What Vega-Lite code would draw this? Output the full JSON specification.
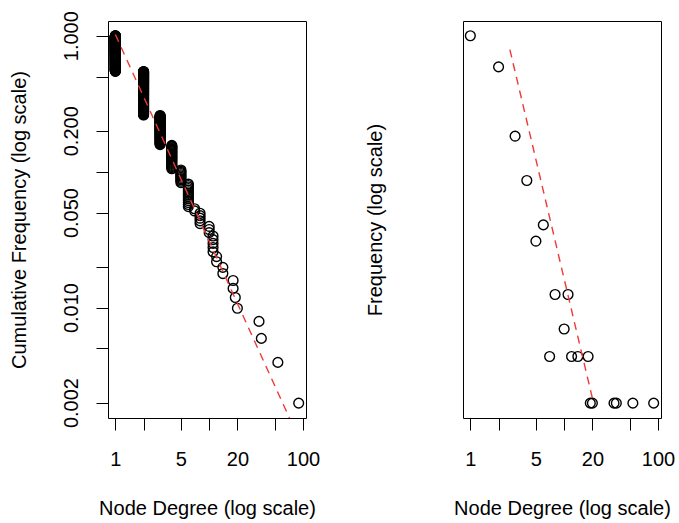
{
"$schema": "https://vega.github.io/schema/vega-lite/v6.json",
"background": "white",
"padding": {"left": 8, "top": 10, "right": 3, "bottom": 5},
"bounds": "flush",
"spacing": 157,
"config": {
 "font": "Liberation Sans",
 "view": {"stroke": "black", "strokeWidth": 1},
 "axis": {"labelFont": "Liberation Sans", "titleFont": "Liberation Sans", "labelFontSize": 20, "titleFontSize": 20, "titleFontWeight": "normal", "labelColor": "black", "titleColor": "black", "tickColor": "black", "tickWidth": 1, "tickSize": 12, "grid": false, "domain": false, "labelOverlap": false, "labelFlush": false}
},
"datasets": {
 "cum": [
{"d":90,"c":0.00198},{"d":54,"c":0.00395},{"d":36,"c":0.00593},{"d":34,"c":0.00791},{"d":20,"c":0.00988},{"d":19,"c":0.01186},{"d":18,"c":0.01383},{"d":18,"c":0.01581},{"d":14,"c":0.01779},{"d":14,"c":0.01976},{"d":12,"c":0.02174},{"d":12,"c":0.02372},{"d":11,"c":0.02569},{"d":11,"c":0.02767},{"d":11,"c":0.02964},{"d":11,"c":0.03162},{"d":11,"c":0.0336},{"d":10,"c":0.03557},{"d":10,"c":0.03755},{"d":10,"c":0.03953},{"d":8,"c":0.0415},{"d":8,"c":0.04348},{"d":8,"c":0.04545},{"d":8,"c":0.04743},{"d":8,"c":0.04941},{"d":7,"c":0.05138},{"d":7,"c":0.05336},
{"d":6,"c":0.05534},{"d":6,"c":0.05731},{"d":6,"c":0.05929},{"d":6,"c":0.06126},{"d":6,"c":0.06324},{"d":6,"c":0.06522},{"d":6,"c":0.06719},{"d":6,"c":0.06917},{"d":6,"c":0.07115},{"d":6,"c":0.07312},{"d":6,"c":0.0751},{"d":6,"c":0.07708},{"d":6,"c":0.07905},{"d":6,"c":0.08103},
{"d":5,"c":0.083},{"d":5,"c":0.08498},{"d":5,"c":0.08696},{"d":5,"c":0.08893},{"d":5,"c":0.09091},{"d":5,"c":0.09289},{"d":5,"c":0.09486},{"d":5,"c":0.09684},{"d":5,"c":0.09881},{"d":5,"c":0.10079},{"d":5,"c":0.10277},
{"d":4,"c":0.105},{"d":4,"c":0.107},{"d":4,"c":0.109},{"d":4,"c":0.111},{"d":4,"c":0.113},{"d":4,"c":0.115},{"d":4,"c":0.117},{"d":4,"c":0.119},{"d":4,"c":0.121},{"d":4,"c":0.123},{"d":4,"c":0.125},{"d":4,"c":0.126},{"d":4,"c":0.128},{"d":4,"c":0.130},{"d":4,"c":0.132},{"d":4,"c":0.134},{"d":4,"c":0.136},{"d":4,"c":0.138},{"d":4,"c":0.140},{"d":4,"c":0.142},{"d":4,"c":0.144},{"d":4,"c":0.146},{"d":4,"c":0.148},{"d":4,"c":0.150},{"d":4,"c":0.152},{"d":4,"c":0.154},{"d":4,"c":0.156},
{"d":3,"c":0.158},{"d":3,"c":0.160},{"d":3,"c":0.162},{"d":3,"c":0.164},{"d":3,"c":0.166},{"d":3,"c":0.168},{"d":3,"c":0.170},{"d":3,"c":0.172},{"d":3,"c":0.174},{"d":3,"c":0.176},{"d":3,"c":0.178},{"d":3,"c":0.180},{"d":3,"c":0.182},{"d":3,"c":0.184},{"d":3,"c":0.186},{"d":3,"c":0.188},{"d":3,"c":0.190},{"d":3,"c":0.192},{"d":3,"c":0.194},{"d":3,"c":0.196},{"d":3,"c":0.198},{"d":3,"c":0.200},{"d":3,"c":0.202},{"d":3,"c":0.204},{"d":3,"c":0.206},{"d":3,"c":0.208},
{"d":3,"c":0.209},{"d":3,"c":0.211},{"d":3,"c":0.213},{"d":3,"c":0.215},{"d":3,"c":0.217},{"d":3,"c":0.219},{"d":3,"c":0.221},{"d":3,"c":0.223},{"d":3,"c":0.225},{"d":3,"c":0.227},{"d":3,"c":0.229},{"d":3,"c":0.231},{"d":3,"c":0.233},{"d":3,"c":0.235},{"d":3,"c":0.237},{"d":3,"c":0.239},{"d":3,"c":0.241},{"d":3,"c":0.243},{"d":3,"c":0.245},{"d":3,"c":0.247},{"d":3,"c":0.249},{"d":3,"c":0.251},{"d":3,"c":0.253},{"d":3,"c":0.255},{"d":3,"c":0.257},{"d":3,"c":0.259},
{"d":2,"c":0.261},{"d":2,"c":0.263},{"d":2,"c":0.265},{"d":2,"c":0.267},{"d":2,"c":0.269},{"d":2,"c":0.271},{"d":2,"c":0.273},{"d":2,"c":0.275},{"d":2,"c":0.277},{"d":2,"c":0.279},{"d":2,"c":0.281},{"d":2,"c":0.283},{"d":2,"c":0.285},{"d":2,"c":0.287},{"d":2,"c":0.289},{"d":2,"c":0.291},
{"d":2,"c":0.292},{"d":2,"c":0.294},{"d":2,"c":0.296},{"d":2,"c":0.298},{"d":2,"c":0.300},{"d":2,"c":0.302},{"d":2,"c":0.304},{"d":2,"c":0.306},{"d":2,"c":0.308},{"d":2,"c":0.310},{"d":2,"c":0.312},{"d":2,"c":0.314},{"d":2,"c":0.316},{"d":2,"c":0.318},{"d":2,"c":0.320},{"d":2,"c":0.322},{"d":2,"c":0.324},{"d":2,"c":0.326},{"d":2,"c":0.328},{"d":2,"c":0.330},{"d":2,"c":0.332},{"d":2,"c":0.334},{"d":2,"c":0.336},{"d":2,"c":0.338},{"d":2,"c":0.340},{"d":2,"c":0.342},{"d":2,"c":0.344},{"d":2,"c":0.346},{"d":2,"c":0.348},{"d":2,"c":0.350},{"d":2,"c":0.352},{"d":2,"c":0.354},{"d":2,"c":0.356},{"d":2,"c":0.358},{"d":2,"c":0.360},{"d":2,"c":0.362},{"d":2,"c":0.364},{"d":2,"c":0.366},{"d":2,"c":0.368},{"d":2,"c":0.370},{"d":2,"c":0.372},{"d":2,"c":0.374},
{"d":2,"c":0.375},{"d":2,"c":0.377},{"d":2,"c":0.379},{"d":2,"c":0.381},{"d":2,"c":0.383},{"d":2,"c":0.385},{"d":2,"c":0.387},{"d":2,"c":0.389},{"d":2,"c":0.391},{"d":2,"c":0.393},{"d":2,"c":0.395},{"d":2,"c":0.397},{"d":2,"c":0.399},{"d":2,"c":0.401},{"d":2,"c":0.403},{"d":2,"c":0.405},{"d":2,"c":0.407},{"d":2,"c":0.409},{"d":2,"c":0.411},{"d":2,"c":0.413},{"d":2,"c":0.415},{"d":2,"c":0.417},{"d":2,"c":0.419},{"d":2,"c":0.421},{"d":2,"c":0.423},{"d":2,"c":0.425},{"d":2,"c":0.427},{"d":2,"c":0.429},{"d":2,"c":0.431},{"d":2,"c":0.433},{"d":2,"c":0.435},{"d":2,"c":0.437},{"d":2,"c":0.439},{"d":2,"c":0.441},{"d":2,"c":0.443},{"d":2,"c":0.445},{"d":2,"c":0.447},{"d":2,"c":0.449},{"d":2,"c":0.451},{"d":2,"c":0.453},{"d":2,"c":0.455},{"d":2,"c":0.457},
{"d":2,"c":0.458},{"d":2,"c":0.460},{"d":2,"c":0.462},{"d":2,"c":0.464},{"d":2,"c":0.466},{"d":2,"c":0.468},{"d":2,"c":0.470},{"d":2,"c":0.472},{"d":2,"c":0.474},{"d":2,"c":0.476},{"d":2,"c":0.478},{"d":2,"c":0.480},{"d":2,"c":0.482},{"d":2,"c":0.484},{"d":2,"c":0.486},{"d":2,"c":0.488},{"d":2,"c":0.490},{"d":2,"c":0.492},{"d":2,"c":0.494},{"d":2,"c":0.496},{"d":2,"c":0.498},{"d":2,"c":0.500},{"d":2,"c":0.502},{"d":2,"c":0.504},{"d":2,"c":0.506},{"d":2,"c":0.508},{"d":2,"c":0.510},{"d":2,"c":0.512},{"d":2,"c":0.514},{"d":2,"c":0.516},{"d":2,"c":0.518},{"d":2,"c":0.520},{"d":2,"c":0.522},{"d":2,"c":0.524},{"d":2,"c":0.526},{"d":2,"c":0.528},{"d":2,"c":0.530},{"d":2,"c":0.532},{"d":2,"c":0.534},{"d":2,"c":0.536},{"d":2,"c":0.538},{"d":2,"c":0.540},{"d":2,"c":0.542},{"d":2,"c":0.543},{"d":2,"c":0.545},
{"d":1,"c":0.547},{"d":1,"c":0.549},{"d":1,"c":0.551},{"d":1,"c":0.553},{"d":1,"c":0.555},{"d":1,"c":0.557},{"d":1,"c":0.559},{"d":1,"c":0.561},{"d":1,"c":0.563},{"d":1,"c":0.565},{"d":1,"c":0.567},{"d":1,"c":0.569},{"d":1,"c":0.571},{"d":1,"c":0.573},{"d":1,"c":0.575},{"d":1,"c":0.577},{"d":1,"c":0.579},{"d":1,"c":0.581},{"d":1,"c":0.583},{"d":1,"c":0.585},{"d":1,"c":0.587},{"d":1,"c":0.589},{"d":1,"c":0.591},{"d":1,"c":0.593},{"d":1,"c":0.595},{"d":1,"c":0.597},{"d":1,"c":0.599},{"d":1,"c":0.601},{"d":1,"c":0.603},{"d":1,"c":0.605},{"d":1,"c":0.607},{"d":1,"c":0.609},{"d":1,"c":0.611},{"d":1,"c":0.613},{"d":1,"c":0.615},{"d":1,"c":0.617},{"d":1,"c":0.619},{"d":1,"c":0.621},{"d":1,"c":0.623},{"d":1,"c":0.625},
{"d":1,"c":0.626},{"d":1,"c":0.628},{"d":1,"c":0.630},{"d":1,"c":0.632},{"d":1,"c":0.634},{"d":1,"c":0.636},{"d":1,"c":0.638},{"d":1,"c":0.640},{"d":1,"c":0.642},{"d":1,"c":0.644},{"d":1,"c":0.646},{"d":1,"c":0.648},{"d":1,"c":0.650},{"d":1,"c":0.652},{"d":1,"c":0.654},{"d":1,"c":0.656},{"d":1,"c":0.658},{"d":1,"c":0.660},{"d":1,"c":0.662},{"d":1,"c":0.664},{"d":1,"c":0.666},{"d":1,"c":0.668},{"d":1,"c":0.670},{"d":1,"c":0.672},{"d":1,"c":0.674},{"d":1,"c":0.676},{"d":1,"c":0.678},{"d":1,"c":0.680},{"d":1,"c":0.682},{"d":1,"c":0.684},{"d":1,"c":0.686},{"d":1,"c":0.688},{"d":1,"c":0.690},{"d":1,"c":0.692},{"d":1,"c":0.694},{"d":1,"c":0.696},{"d":1,"c":0.698},{"d":1,"c":0.700},{"d":1,"c":0.702},{"d":1,"c":0.704},{"d":1,"c":0.706},{"d":1,"c":0.708},
{"d":1,"c":0.709},{"d":1,"c":0.711},{"d":1,"c":0.713},{"d":1,"c":0.715},{"d":1,"c":0.717},{"d":1,"c":0.719},{"d":1,"c":0.721},{"d":1,"c":0.723},{"d":1,"c":0.725},{"d":1,"c":0.727},{"d":1,"c":0.729},{"d":1,"c":0.731},{"d":1,"c":0.733},{"d":1,"c":0.735},{"d":1,"c":0.737},{"d":1,"c":0.739},{"d":1,"c":0.741},{"d":1,"c":0.743},{"d":1,"c":0.745},{"d":1,"c":0.747},{"d":1,"c":0.749},{"d":1,"c":0.751},{"d":1,"c":0.753},{"d":1,"c":0.755},{"d":1,"c":0.757},{"d":1,"c":0.759},{"d":1,"c":0.761},{"d":1,"c":0.763},{"d":1,"c":0.765},{"d":1,"c":0.767},{"d":1,"c":0.769},{"d":1,"c":0.771},{"d":1,"c":0.773},{"d":1,"c":0.775},{"d":1,"c":0.777},{"d":1,"c":0.779},{"d":1,"c":0.781},{"d":1,"c":0.783},{"d":1,"c":0.785},{"d":1,"c":0.787},{"d":1,"c":0.789},{"d":1,"c":0.791},
{"d":1,"c":0.792},{"d":1,"c":0.794},{"d":1,"c":0.796},{"d":1,"c":0.798},{"d":1,"c":0.800},{"d":1,"c":0.802},{"d":1,"c":0.804},{"d":1,"c":0.806},{"d":1,"c":0.808},{"d":1,"c":0.810},{"d":1,"c":0.812},{"d":1,"c":0.814},{"d":1,"c":0.816},{"d":1,"c":0.818},{"d":1,"c":0.820},{"d":1,"c":0.822},{"d":1,"c":0.824},{"d":1,"c":0.826},{"d":1,"c":0.828},{"d":1,"c":0.830},{"d":1,"c":0.832},{"d":1,"c":0.834},{"d":1,"c":0.836},{"d":1,"c":0.838},{"d":1,"c":0.840},{"d":1,"c":0.842},{"d":1,"c":0.844},{"d":1,"c":0.846},{"d":1,"c":0.848},{"d":1,"c":0.850},{"d":1,"c":0.852},{"d":1,"c":0.854},{"d":1,"c":0.856},{"d":1,"c":0.858},{"d":1,"c":0.860},{"d":1,"c":0.862},{"d":1,"c":0.864},{"d":1,"c":0.866},{"d":1,"c":0.868},{"d":1,"c":0.870},{"d":1,"c":0.872},{"d":1,"c":0.874},
{"d":1,"c":0.875},{"d":1,"c":0.877},{"d":1,"c":0.879},{"d":1,"c":0.881},{"d":1,"c":0.883},{"d":1,"c":0.885},{"d":1,"c":0.887},{"d":1,"c":0.889},{"d":1,"c":0.891},{"d":1,"c":0.893},{"d":1,"c":0.895},{"d":1,"c":0.897},{"d":1,"c":0.899},{"d":1,"c":0.901},{"d":1,"c":0.903},{"d":1,"c":0.905},{"d":1,"c":0.907},{"d":1,"c":0.909},{"d":1,"c":0.911},{"d":1,"c":0.913},{"d":1,"c":0.915},{"d":1,"c":0.917},{"d":1,"c":0.919},{"d":1,"c":0.921},{"d":1,"c":0.923},{"d":1,"c":0.925},{"d":1,"c":0.927},{"d":1,"c":0.929},{"d":1,"c":0.931},{"d":1,"c":0.933},{"d":1,"c":0.935},{"d":1,"c":0.937},{"d":1,"c":0.939},{"d":1,"c":0.941},{"d":1,"c":0.943},{"d":1,"c":0.945},{"d":1,"c":0.947},{"d":1,"c":0.949},{"d":1,"c":0.951},{"d":1,"c":0.953},{"d":1,"c":0.955},{"d":1,"c":0.957},
{"d":1,"c":0.958},{"d":1,"c":0.960},{"d":1,"c":0.962},{"d":1,"c":0.964},{"d":1,"c":0.966},{"d":1,"c":0.968},{"d":1,"c":0.970},{"d":1,"c":0.972},{"d":1,"c":0.974},{"d":1,"c":0.976},{"d":1,"c":0.978},{"d":1,"c":0.980},{"d":1,"c":0.982},{"d":1,"c":0.984},{"d":1,"c":0.986},{"d":1,"c":0.988},{"d":1,"c":0.990},{"d":1,"c":0.992},{"d":1,"c":0.994},{"d":1,"c":0.996},{"d":1,"c":0.998},{"d":1,"c":1.0}
 ],
 "freq": [
{"d":1,"f":0.4545},{"d":2,"f":0.2866},{"d":3,"f":0.1028},{"d":4,"f":0.05336},{"d":5,"f":0.02174},{"d":6,"f":0.02767},{"d":7,"f":0.00395},{"d":8,"f":0.00988},{"d":10,"f":0.00593},{"d":11,"f":0.00988},{"d":12,"f":0.00395},{"d":14,"f":0.00395},{"d":18,"f":0.00395},{"d":19,"f":0.00198},{"d":20,"f":0.00198},{"d":34,"f":0.00198},{"d":36,"f":0.00198},{"d":54,"f":0.00198},{"d":90,"f":0.00198}
 ],
 "fitL": [{"d":1,"c":1.02},{"d":100,"c":0.00093}],
 "fitR": [{"d":2.64,"f":0.37},{"d":20.3,"f":0.00205}]
},
"hconcat": [
 {
  "width": 198, "height": 397,
  "encoding": {
   "x": {"field": "d", "type": "quantitative", "scale": {"type": "log", "domain": [0.8353, 107.73], "nice": false, "zero": false},
     "axis": {"title": "Node Degree (log scale)", "values": [1,2,5,10,20,50,100], "labelExpr": "indexof([1,5,20,100], datum.value) >= 0 ? format(datum.value, 'd') : ''", "labelPadding": 35, "labelBaseline": "alphabetic", "labelAlign": "center", "labelAngle": 0, "titleX": 99, "titleY": 96, "titleAlign": "center", "titleBaseline": "alphabetic"}},
   "y": {"field": "c", "type": "quantitative", "scale": {"type": "log", "domain": [0.00154, 1.283], "nice": false, "zero": false},
     "axis": {"title": "Cumulative Frequency (log scale)", "values": [0.002,0.005,0.01,0.02,0.05,0.1,0.2,0.5,1], "labelExpr": "indexof([0.002,0.01,0.05,0.2,1], datum.value) >= 0 ? format(datum.value, '.3f') : ''", "labelAngle": 270, "labelAlign": "center", "labelBaseline": "alphabetic", "labelPadding": 18.7, "titleAngle": 270, "titleX": -83, "titleY": 198.5, "titleAlign": "center", "titleBaseline": "alphabetic"}}
  },
  "layer": [
   {"data": {"name": "cum"}, "mark": {"type": "point", "shape": "circle", "filled": false, "color": "black", "strokeWidth": 1.4, "size": 95, "opacity": 1}},
   {"data": {"name": "fitL"}, "mark": {"type": "line", "color": "#ee3a36", "strokeDash": [8, 6], "strokeWidth": 1.4, "clip": true}}
  ]
 },
 {
  "width": 198, "height": 397,
  "encoding": {
   "x": {"field": "d", "type": "quantitative", "scale": {"type": "log", "domain": [0.8353, 107.73], "nice": false, "zero": false},
     "axis": {"title": "Node Degree (log scale)", "values": [1,2,5,10,20,50,100], "labelExpr": "indexof([1,5,20,100], datum.value) >= 0 ? format(datum.value, 'd') : ''", "labelPadding": 35, "labelBaseline": "alphabetic", "labelAlign": "center", "labelAngle": 0, "titleX": 99, "titleY": 96, "titleAlign": "center", "titleBaseline": "alphabetic"}},
   "y": {"field": "f", "type": "quantitative", "scale": {"type": "log", "domain": [0.001589, 0.565], "nice": false, "zero": false},
     "axis": {"title": "Frequency (log scale)", "ticks": false, "labels": false, "titleAngle": 270, "titleX": -82, "titleY": 198.5, "titleAlign": "center", "titleBaseline": "alphabetic"}}
  },
  "layer": [
   {"data": {"name": "freq"}, "mark": {"type": "point", "shape": "circle", "filled": false, "color": "black", "strokeWidth": 1.4, "size": 95, "opacity": 1}},
   {"data": {"name": "fitR"}, "mark": {"type": "line", "color": "#ee3a36", "strokeDash": [8, 6], "strokeWidth": 1.4, "clip": true}}
  ]
 }
]
}
